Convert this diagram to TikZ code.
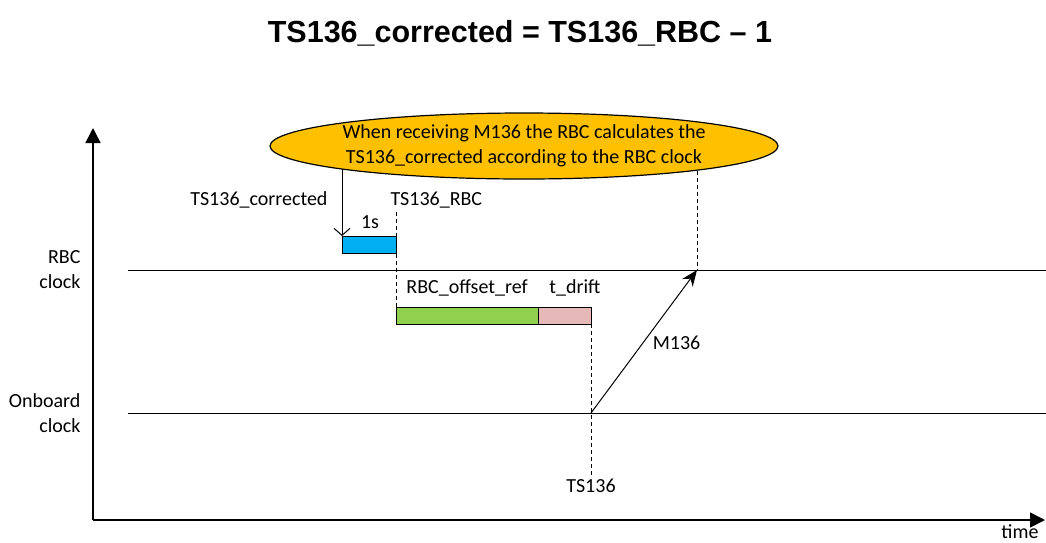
\documentclass[tikz,border=0pt]{standalone}
\usepackage{fontspec}
\setmainfont{Carlito}
\newfontfamily\titlefont{Liberation Sans}
\usetikzlibrary{shapes.geometric,arrows.meta,positioning}
\definecolor{noteorange}{HTML}{FFC000}
\definecolor{barblue}{HTML}{00B0F0}
\definecolor{bargreen}{HTML}{92D050}
\definecolor{barpink}{HTML}{E6B8B7}
\begin{document}
\begin{tikzpicture}[x=1pt,y=-1pt,font=\fontsize{20}{25}\selectfont,
  bar/.style={draw,line width=1pt,minimum height=17pt,inner sep=0pt,outer sep=0pt,anchor=north west},
  dashline/.style={dash pattern=on 4pt off 3pt,line width=0.8pt},
  axis/.style={line width=1.5pt,-{Triangle[length=15pt,width=15pt]}}]
\useasboundingbox (0,0) rectangle (1046,542);
\node[font=\titlefont\bfseries\fontsize{30.5}{36}\selectfont] (title) at (520,33) {TS136\_corrected = TS136\_RBC \textendash{} 1};
% axes
\coordinate (origin) at (93,520);
\draw[axis] (origin) -- (93,128);
\draw[axis] (origin) -- (1045,520);
\node[inner sep=1pt] (time) at (1020,532) {time};
% clocks
\coordinate (rbcstart) at (128,270);
\coordinate (obstart) at (128,413);
\draw[line width=1pt] (rbcstart) -- (1046,270);
\draw[line width=1pt] (obstart) -- (1046,413);
\node[align=right,anchor=east] (rbclbl) at (84,270) {RBC\\clock};
\node[align=right,anchor=east] (oblbl) at (84,413) {Onboard\\clock};
% note
\node[ellipse,draw,line width=1.2pt,fill=noteorange,minimum width=508pt,minimum height=66pt,inner sep=0pt] (note) at (524,146) {};
\node[align=center] (notetext) at (note) {When receiving M136 the RBC calculates the\\TS136\_corrected according to the RBC clock};
% bars
\node[bar,fill=barblue,minimum width=54pt] (onesec) at (342,236) {};
\node[bar,fill=bargreen,minimum width=142pt] (offset) at (396,307) {};
\node[bar,fill=barpink,minimum width=53pt,right=0pt of offset] (drift) {};
\node[anchor=east] (tscorr) at (331,200) {TS136\_corrected};
\node[anchor=west] (tsrbc) at (387,200) {TS136\_RBC};
\node (onelbl) at (370,222) {1s};
\node (offlbl) at (467,288) {RBC\_offset\_ref};
\node (driftlbl) at (575,288) {t\_drift};
\node (tslbl) at (591,486) {TS136};
% arrows
\draw[line width=1pt,-{Straight Barb[length=7pt,width=16pt]}] (onesec.north west |- note.187) -- (onesec.north west);
\draw[dashline] (onesec.north east |- tsrbc.south) -- (offset.south west);
\draw[dashline] (drift.south east) -- (tslbl.north);
\coordinate (send) at (drift.south east |- obstart);
\coordinate (recv) at (697,270);
\draw[line width=1pt,-{Stealth[length=16pt,width=13pt]}] (send) -- (recv) node[pos=0.49,right=6pt] (msglbl) {M136};
\draw[dashline] (recv |- note.352) -- (recv);
\end{tikzpicture}
\end{document}
